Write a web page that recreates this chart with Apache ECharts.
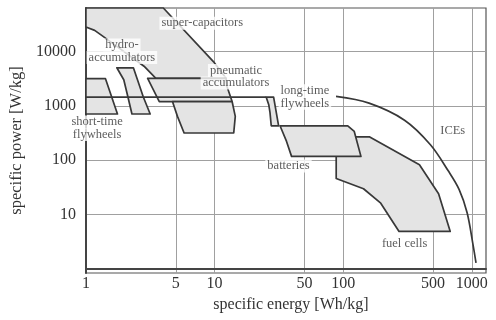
<!DOCTYPE html>
<html><head><meta charset="utf-8">
<script src="https://cdn.jsdelivr.net/npm/echarts@6/dist/echarts.min.js"></script>
<style>html,body{margin:0;padding:0;background:#fff}#c{width:496px;height:320px}</style>
</head><body><div id="c"></div>
<script>
// Axis ranges and tick values (raw units)
const xRange = [1, 1290];          // specific energy [Wh/kg]
const yRange = [0.85, 62700];      // specific power [W/kg]
const xTicks = [1, 5, 10, 50, 100, 500, 1000];
const yTicks = [10, 100, 1000, 10000];

// Regions: [specific energy, specific power] outline vertices
const superCapacitors = [[1,62700],[4.0,62700],[9.8,6500],[12.3,3200],[3.5,3200],[2.83,5350],[1.36,18900],[1.17,24300],[1,28100]];
const pneumaticUpper = [[3.02,3200],[12.3,3200],[12.5,2275],[13.7,1200],[3.72,1200]];
const pneumaticLower = [[4.71,1200],[13.7,1200],[14.5,640],[14.1,317],[5.80,317],[5.15,640]];
const shortTimeFlywheels = [[1,3150],[1.42,3150],[1.76,708],[1,708]];
const hydroAccumulators = [[1.74,5000],[2.34,5000],[2.51,3090],[2.79,1470],[3.16,708],[2.28,708],[2.12,1470],[1.97,3020]];
const flywheelLimit = [[1,1450],[25.2,1450]];
const longTimeFlywheels = [[25.2,1450],[28.8,1450],[31.5,430],[27.6,430],[27.0,750],[26.4,1050]];
const batteries = [[32.3,430],[108.6,430],[122,339],[137.5,118],[39.7,118],[36.3,222]];
const fuelCells = [[88.3,268],[161,268],[392,83],[552,24.3],[680,4.93],[272,4.93],[196,16.3],[144,30],[88.3,46.2]];
const ices = [[88,1490],[159,1120],[300,545],[477,193],[656,64],[798,29],[920,10.9],[1023,2.8],[1079,1.3]];

// Text labels: [text, energy, power]
const labelNames = ['super-capacitors','hydro-\naccumulators','pneumatic\naccumulators','long-time\nflywheels','short-time\nflywheels','batteries','ICEs','fuel cells'];
const labelX = [8.03, 1.905, 14.68, 50.4, 1.222, 37.6, 711, 300.6];
const labelY = [33000, 10085, 3430, 1453, 388, 78.5, 349, 2.93];

const L = Math.log10;
const FILL = '#e4e4e4', STROKE = '#383838', TXT = '#333';
const FONT = 'Liberation Serif';

function toLog(pts) { return pts.map(p => [L(p[0]), L(p[1])]); }

function polySeries(name, pts) {
  const lp = toLog(pts);
  return {
    type: 'custom', name: name, coordinateSystem: 'cartesian2d',
    silent: true, animation: false, z: 2,
    data: lp,
    renderItem: function (params, api) {
      if (params.dataIndex !== 0) return null;
      const points = lp.map(p => api.coord(p));
      return { type: 'polygon', shape: { points: points },
        style: { fill: FILL, stroke: STROKE, lineWidth: 1.7, lineJoin: 'round' } };
    }
  };
}
function lineSeries(name, pts, smooth) {
  return { type: 'line', name: name, data: toLog(pts), smooth: smooth, symbol: 'none',
    silent: true, animation: false, z: 2,
    lineStyle: { color: STROKE, width: 1.7 } };
}

const labelData = labelNames.map((n, i) => ({ name: n, value: [L(labelX[i]), L(labelY[i])] }));

const chart = echarts.init(document.getElementById('c'), null, { renderer: 'canvas' });
chart.setOption({
  animation: false,
  backgroundColor: '#fff',
  grid: { left: 83, right: 10, top: 8, bottom: 47, show: true, borderColor: '#555', borderWidth: 1.2, backgroundColor: 'transparent' },
  xAxis: {
    type: 'value', min: L(xRange[0]), max: L(xRange[1]),
    name: 'specific energy [Wh/kg]', nameLocation: 'middle', nameGap: 21,
    nameTextStyle: { fontFamily: FONT, fontSize: 16, color: TXT, padding: [0, 0, 0, 10] },
    axisLine: { show: true, lineStyle: { color: '#444', width: 2 } },
    axisTick: { show: false, customValues: xTicks.map(L) },
    axisLabel: { customValues: xTicks.map(L), margin: 3, fontFamily: FONT, fontSize: 16, color: TXT,
      formatter: v => String(Math.round(Math.pow(10, v))) },
    splitLine: { show: true, lineStyle: { color: '#a0a0a0', width: 1 } }
  },
  yAxis: {
    type: 'value', min: L(yRange[0]), max: L(yRange[1]),
    name: 'specific power [W/kg]', nameLocation: 'middle', nameGap: 59,
    nameTextStyle: { fontFamily: FONT, fontSize: 16.5, color: TXT },
    axisLine: { show: true, lineStyle: { color: '#444', width: 2 } },
    axisTick: { show: false, customValues: yTicks.map(L) },
    axisLabel: { customValues: yTicks.map(L), margin: 10, fontFamily: FONT, fontSize: 16, color: TXT,
      formatter: v => String(Math.round(Math.pow(10, v))) },
    splitLine: { show: true, lineStyle: { color: '#a0a0a0', width: 1 } }
  },
  series: [
    polySeries('super-capacitors', superCapacitors),
    polySeries('pneumatic upper', pneumaticUpper),
    polySeries('pneumatic lower', pneumaticLower),
    polySeries('short-time flywheels', shortTimeFlywheels),
    polySeries('hydro-accumulators', hydroAccumulators),
    lineSeries('flywheel limit', flywheelLimit, false),
    polySeries('long-time flywheels', longTimeFlywheels),
    polySeries('fuel cells', fuelCells),
    polySeries('batteries', batteries),
    lineSeries('ICEs', ices, 0.35),
    {
      type: 'scatter', name: 'labels', data: labelData, symbolSize: 1, z: 10, silent: true, animation: false,
      itemStyle: { color: 'rgba(0,0,0,0)' },
      label: {
        show: true, position: 'inside', align: 'center', verticalAlign: 'middle',
        formatter: p => p.name.split('\n').map(s => '{a|' + s + '}').join('\n'),
        rich: { a: { fontFamily: FONT, fontSize: 12.5, lineHeight: 12.5, color: TXT, backgroundColor: '#fff', padding: [0, 2] } }
      }
    }
  ]
});
</script></body></html>
